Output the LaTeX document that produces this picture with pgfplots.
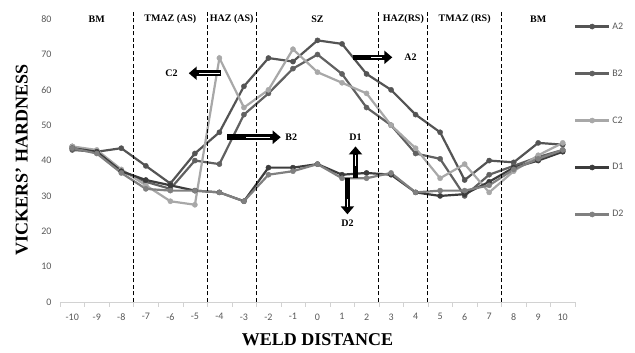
\documentclass[border=0pt]{standalone}
\usepackage{pgfplots}
\pgfplotsset{compat=1.18}
\usepackage{fontspec}
\setmainfont{Liberation Serif}
\newfontfamily\carlito{Carlito}
\usetikzlibrary{arrows.meta}
\definecolor{cA}{HTML}{545454}
\definecolor{cB}{HTML}{616161}
\definecolor{cC}{HTML}{A8A8A8}
\definecolor{cD}{HTML}{3C3C3C}
\definecolor{cE}{HTML}{808080}
\definecolor{tickgray}{HTML}{595959}
\begin{document}
\begin{tikzpicture}
\useasboundingbox (-60pt,-51pt) rectangle (575pt,302pt);
\begin{axis}[
  scale only axis, width=515pt, height=297pt,
  xmin=-10.5, xmax=10.5, ymin=0, ymax=84,
  axis lines*=left,
  x axis line style={draw=gray!35},
  y axis line style={draw=none},
  xtick={-10,-9,...,10},
  xticklabels={-10,-9,-8,-7,-6,-5,-4,-3,-2,-1,0,1,2,3,4,5,6,7,8,9,10},
  minor xtick={-10.5,-9.5,...,10.5},
  major x tick style={draw=none},
  minor x tick style={draw=gray!35},
  minor tick length=5pt, major tick length=5pt,
  tick align=outside,
  xticklabel style={yshift=-3pt},
  ytick={0,10,...,80},
  y tick style={draw=none},
  /pgf/number format/assume math mode=true,
  ticklabel style={font=\carlito\fontsize{10}{12}\selectfont, text=tickgray},
  xlabel={\bfseries WELD DISTANCE},
  ylabel={\bfseries VICKERS' HARDNESS},
  label style={font=\fontsize{18}{20}\selectfont},
  xlabel style={at={(axis description cs:0.5,-0.128)}, anchor=center},
  ylabel style={at={(axis description cs:-0.074,0.478)}, anchor=center},
  clip=false,
  legend style={draw=none, fill=none, at={(axis description cs:0.992,0.955)}, anchor=north west,
    font=\carlito\fontsize{10}{12}\selectfont, text=tickgray, row sep=35pt},
  legend cell align=left,
  legend image code/.code={\draw[mark repeat=2,mark phase=2] plot coordinates {(0pt,0pt) (17pt,0pt) (34pt,0pt)};},
  every axis plot/.append style={line width=2.2pt, mark=*, mark size=2.6pt, mark options={line width=0.4pt}},
]
\addplot[color=cA] coordinates {(-10,44) (-9,42.5) (-8,43.5) (-7,38.5) (-6,33.5) (-5,42) (-4,48) (-3,61) (-2,69) (-1,68) (0,74) (1,73) (2,64.5) (3,60) (4,53) (5,48) (6,34.5) (7,40) (8,39.5) (9,45) (10,44.5)};
\addplot[color=cB] coordinates {(-10,43) (-9,42.5) (-8,37) (-7,34) (-6,32) (-5,40) (-4,39) (-3,53) (-2,59) (-1,66) (0,70) (1,64.5) (2,55) (3,50) (4,42) (5,40.5) (6,30) (7,36) (8,38.5) (9,41) (10,43)};
\addplot[color=cC] coordinates {(-10,44) (-9,43) (-8,37.5) (-7,33) (-6,28.5) (-5,27.5) (-4,69) (-3,55) (-2,60) (-1,71.5) (0,65) (1,62) (2,59) (3,50) (4,43.5) (5,35) (6,39) (7,31) (8,37) (9,41.5) (10,45)};
\addplot[color=cD] coordinates {(-10,43.5) (-9,42.5) (-8,37) (-7,34.5) (-6,33) (-5,31.5) (-4,31) (-3,28.5) (-2,38) (-1,38) (0,39) (1,36) (2,36.5) (3,36) (4,31) (5,30) (6,30.5) (7,34) (8,38) (9,40) (10,42.5)};
\addplot[color=cE] coordinates {(-10,43.5) (-9,42) (-8,36.5) (-7,32) (-6,31.5) (-5,31.5) (-4,31) (-3,28.5) (-2,36) (-1,37) (0,39) (1,35) (2,35) (3,36.5) (4,31) (5,31.5) (6,31.5) (7,33) (8,37.5) (9,40.5) (10,43)};
\legend{A2,B2,C2,D1,D2}
% zone boundaries
\pgfplotsinvokeforeach{-7.5,-4.5,-2.5,2.5,4.5,7.5}{
  \draw[black, line width=0.9pt, dash pattern=on 4pt off 2.5pt] (axis cs:#1,0) -- (axis cs:#1,82);
}
\begin{scope}[font=\bfseries\fontsize{10}{12}\selectfont]
\node at (axis cs:-9,80) {BM};
\node at (axis cs:-6,80) {TMAZ (AS)};
\node at (axis cs:-3.5,80) {HAZ (AS)};
\node at (axis cs:0,80) {SZ};
\node at (axis cs:3.5,80) {HAZ(RS)};
\node at (axis cs:6,80) {TMAZ (RS)};
\node at (axis cs:9,80) {BM};
\node at (axis cs:-5.95,64.7) {C2};
\node[anchor=west] at (axis cs:-1.45,46.6) {B2};
\node[anchor=west] at (axis cs:3.4,69.2) {A2};
\node at (axis cs:1.55,46.5) {D1};
\node at (axis cs:1.22,22.3) {D2};
\end{scope}
% annotation arrows
\draw[black, line width=5.5pt, -{Triangle[length=8pt,width=13pt]}] (axis cs:-3.92,64.7) -- (axis cs:-5.25,64.7);
\draw[white, line width=1.3pt] (axis cs:-3.98,64.7) -- (axis cs:-4.85,64.7);
\draw[black, line width=5.5pt, -{Triangle[length=8pt,width=13pt]}] (axis cs:-3.67,46.6) -- (axis cs:-1.5,46.6);
\draw[white, line width=1.3pt] (axis cs:-2.9,46.6) -- (axis cs:-1.95,46.6);
\draw[black, line width=5.5pt, -{Triangle[length=8pt,width=13pt]}] (axis cs:1.45,69.2) -- (axis cs:3.05,69.2);
\draw[white, line width=1.3pt] (axis cs:2.2,69.2) -- (axis cs:2.65,69.2);
\draw[black, line width=5.5pt, -{Triangle[length=8pt,width=13pt]}] (axis cs:1.55,35) -- (axis cs:1.55,44);
\draw[white, line width=1.3pt] (axis cs:1.55,38.5) -- (axis cs:1.55,41.5);
\draw[black, line width=5.5pt, -{Triangle[length=8pt,width=13pt]}] (axis cs:1.22,35) -- (axis cs:1.22,24.8);
\draw[white, line width=1.3pt] (axis cs:1.22,29) -- (axis cs:1.22,27);
\end{axis}
\end{tikzpicture}
\end{document}
